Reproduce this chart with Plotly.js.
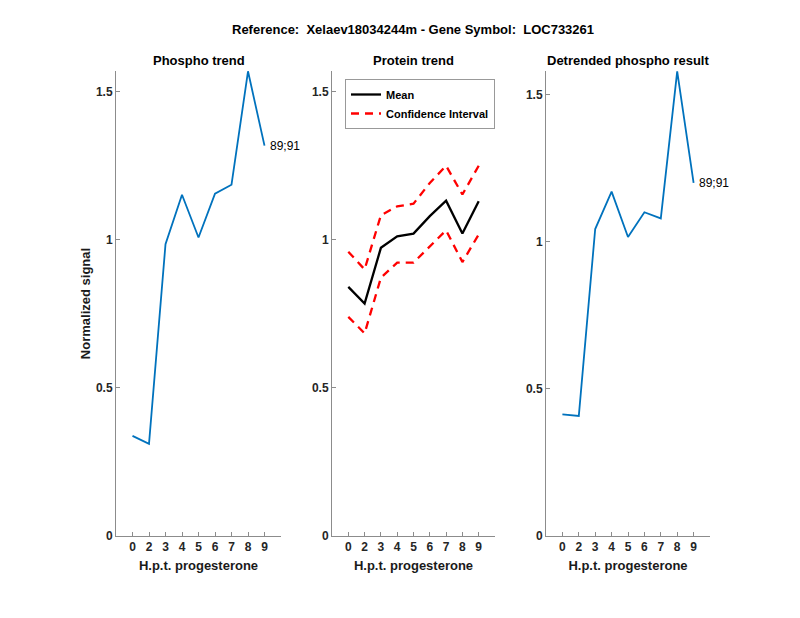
<!DOCTYPE html>
<html>
<head>
<meta charset="utf-8">
<script src="https://cdn.plot.ly/plotly-3.0.1.min.js"></script>
<style>html,body{margin:0;padding:0;background:#fff;}#chart{width:800px;height:618px;}</style>
</head>
<body>
<div id="chart"></div>
<script>
// Data
const timeLabels = ["0", "2", "3", "4", "5", "6", "7", "8", "9"];
const phosphoTrend = [0.338, 0.311, 0.985, 1.152, 1.008, 1.156, 1.186, 1.569, 1.318];
const proteinMean = [0.841, 0.785, 0.973, 1.012, 1.021, 1.080, 1.132, 1.021, 1.130];
const proteinUpper = [0.960, 0.900, 1.083, 1.113, 1.122, 1.192, 1.250, 1.153, 1.250];
const proteinLower = [0.740, 0.684, 0.872, 0.923, 0.923, 0.979, 1.032, 0.925, 1.018];
const detrended = [0.413, 0.408, 1.043, 1.170, 1.016, 1.100, 1.079, 1.579, 1.200];
const peptideLabel = "89;91";
const panelTitles = ["Phospho trend", "Protein trend", "Detrended phospho result"];
const mainTitle = "Reference:  Xelaev18034244m - Gene Symbol:  LOC733261";
const xTitle = "H.p.t. progesterone";
const yTitle = "Normalized signal";

const FONT = "Liberation Sans, Arial, Helvetica, sans-serif";
const blue = "#0072BD";
const axisCol = "#8c8c8c";
const tickTxt = "#262626";
const lastIdx = timeLabels.length - 1;

const traces = [
  {x: timeLabels, y: phosphoTrend, xaxis: "x", yaxis: "y", mode: "lines",
   line: {color: blue, width: 1.8}, showlegend: false, hoverinfo: "skip"},
  {x: timeLabels, y: proteinMean, xaxis: "x2", yaxis: "y2", mode: "lines", name: "Mean",
   line: {color: "#000000", width: 2.3}, showlegend: true},
  {x: timeLabels, y: proteinUpper, xaxis: "x2", yaxis: "y2", mode: "lines", name: "Confidence Interval",
   line: {color: "#ff0000", width: 2.3, dash: "8px,6px"}, showlegend: true},
  {x: timeLabels, y: proteinLower, xaxis: "x2", yaxis: "y2", mode: "lines", name: "Confidence Interval",
   line: {color: "#ff0000", width: 2.3, dash: "8px,6px"}, showlegend: false},
  {x: timeLabels, y: detrended, xaxis: "x3", yaxis: "y3", mode: "lines",
   line: {color: blue, width: 1.8}, showlegend: false}
];

const yTop = 1 - 71/618, yBot = 1 - 536/618;
function xax(d, anchor) {
  return {domain: d, anchor: anchor, type: "category", range: [-1, 9],
    showline: true, linecolor: axisCol, linewidth: 1, mirror: false, showgrid: false, zeroline: false,
    ticks: "inside", ticklen: 4, tickcolor: axisCol, tickwidth: 1,
    tickfont: {family: FONT, size: 12, color: tickTxt, weight: "bold"},
    title: {text: xTitle, font: {family: FONT, size: 13, color: "#1a1a1a", weight: "bold"}, standoff: 7},
    fixedrange: true};
}
function yax(anchor, top, withTitle) {
  const a = {domain: [yBot, yTop], anchor: anchor, range: [0, top], dtick: 0.5, tick0: 0,
    showline: true, linecolor: axisCol, linewidth: 1, showgrid: false, zeroline: false,
    ticks: "inside", ticklen: 4, tickcolor: axisCol, tickwidth: 1,
    tickfont: {family: FONT, size: 12, color: tickTxt, weight: "bold"}, fixedrange: true};
  if (withTitle) a.title = {text: yTitle, font: {family: FONT, size: 13, color: "#1a1a1a", weight: "bold"}, standoff: 2};
  return a;
}

const d1 = [116/800, 281/800], d2 = [332/800, 495/800], d3 = [546/800, 710/800];
const layout = {
  width: 800, height: 618,
  margin: {l: 0, r: 0, t: 0, b: 0},
  paper_bgcolor: "#ffffff", plot_bgcolor: "rgba(0,0,0,0)",
  font: {family: FONT, color: "#1a1a1a"},
  showlegend: true,
  legend: {x: 345/800, y: 1 - 79/618, xanchor: "left", yanchor: "top",
    bgcolor: "#ffffff", bordercolor: "#999999", borderwidth: 1,
    font: {family: FONT, size: 11, color: "#000", weight: "bold"},
    tracegroupgap: 0, itemwidth: 30},
  xaxis: xax(d1, "y"), yaxis: yax("x", 1.57, true),
  xaxis2: xax(d2, "y2"), yaxis2: yax("x2", 1.57, false),
  xaxis3: xax(d3, "y3"), yaxis3: yax("x3", 1.58, false),
  annotations: [
    {text: "<b>" + mainTitle + "</b>", xref: "paper", yref: "paper", x: 413/800, y: 1 - 29/618,
     xanchor: "center", yanchor: "middle", showarrow: false, font: {family: FONT, size: 13, color: "#000"}},
    {text: "<b>" + panelTitles[0] + "</b>", xref: "paper", yref: "paper", x: (d1[0]+d1[1])/2, y: 1 - 61/618,
     xanchor: "center", yanchor: "middle", showarrow: false, font: {family: FONT, size: 13, color: "#000"}},
    {text: "<b>" + panelTitles[1] + "</b>", xref: "paper", yref: "paper", x: (d2[0]+d2[1])/2, y: 1 - 61/618,
     xanchor: "center", yanchor: "middle", showarrow: false, font: {family: FONT, size: 13, color: "#000"}},
    {text: "<b>" + panelTitles[2] + "</b>", xref: "paper", yref: "paper", x: (d3[0]+d3[1])/2, y: 1 - 61/618,
     xanchor: "center", yanchor: "middle", showarrow: false, font: {family: FONT, size: 13, color: "#000"}},
    {text: peptideLabel, xref: "x", yref: "y", x: lastIdx, y: phosphoTrend[lastIdx], xanchor: "left", yanchor: "middle",
     xshift: 3, showarrow: false, font: {family: FONT, size: 12, color: "#000"}},
    {text: peptideLabel, xref: "x3", yref: "y3", x: lastIdx, y: detrended[lastIdx], xanchor: "left", yanchor: "middle",
     xshift: 3, showarrow: false, font: {family: FONT, size: 12, color: "#000"}}
  ]
};

Plotly.newPlot("chart", traces, layout, {staticPlot: true, displayModeBar: false});
</script>
</body>
</html>
